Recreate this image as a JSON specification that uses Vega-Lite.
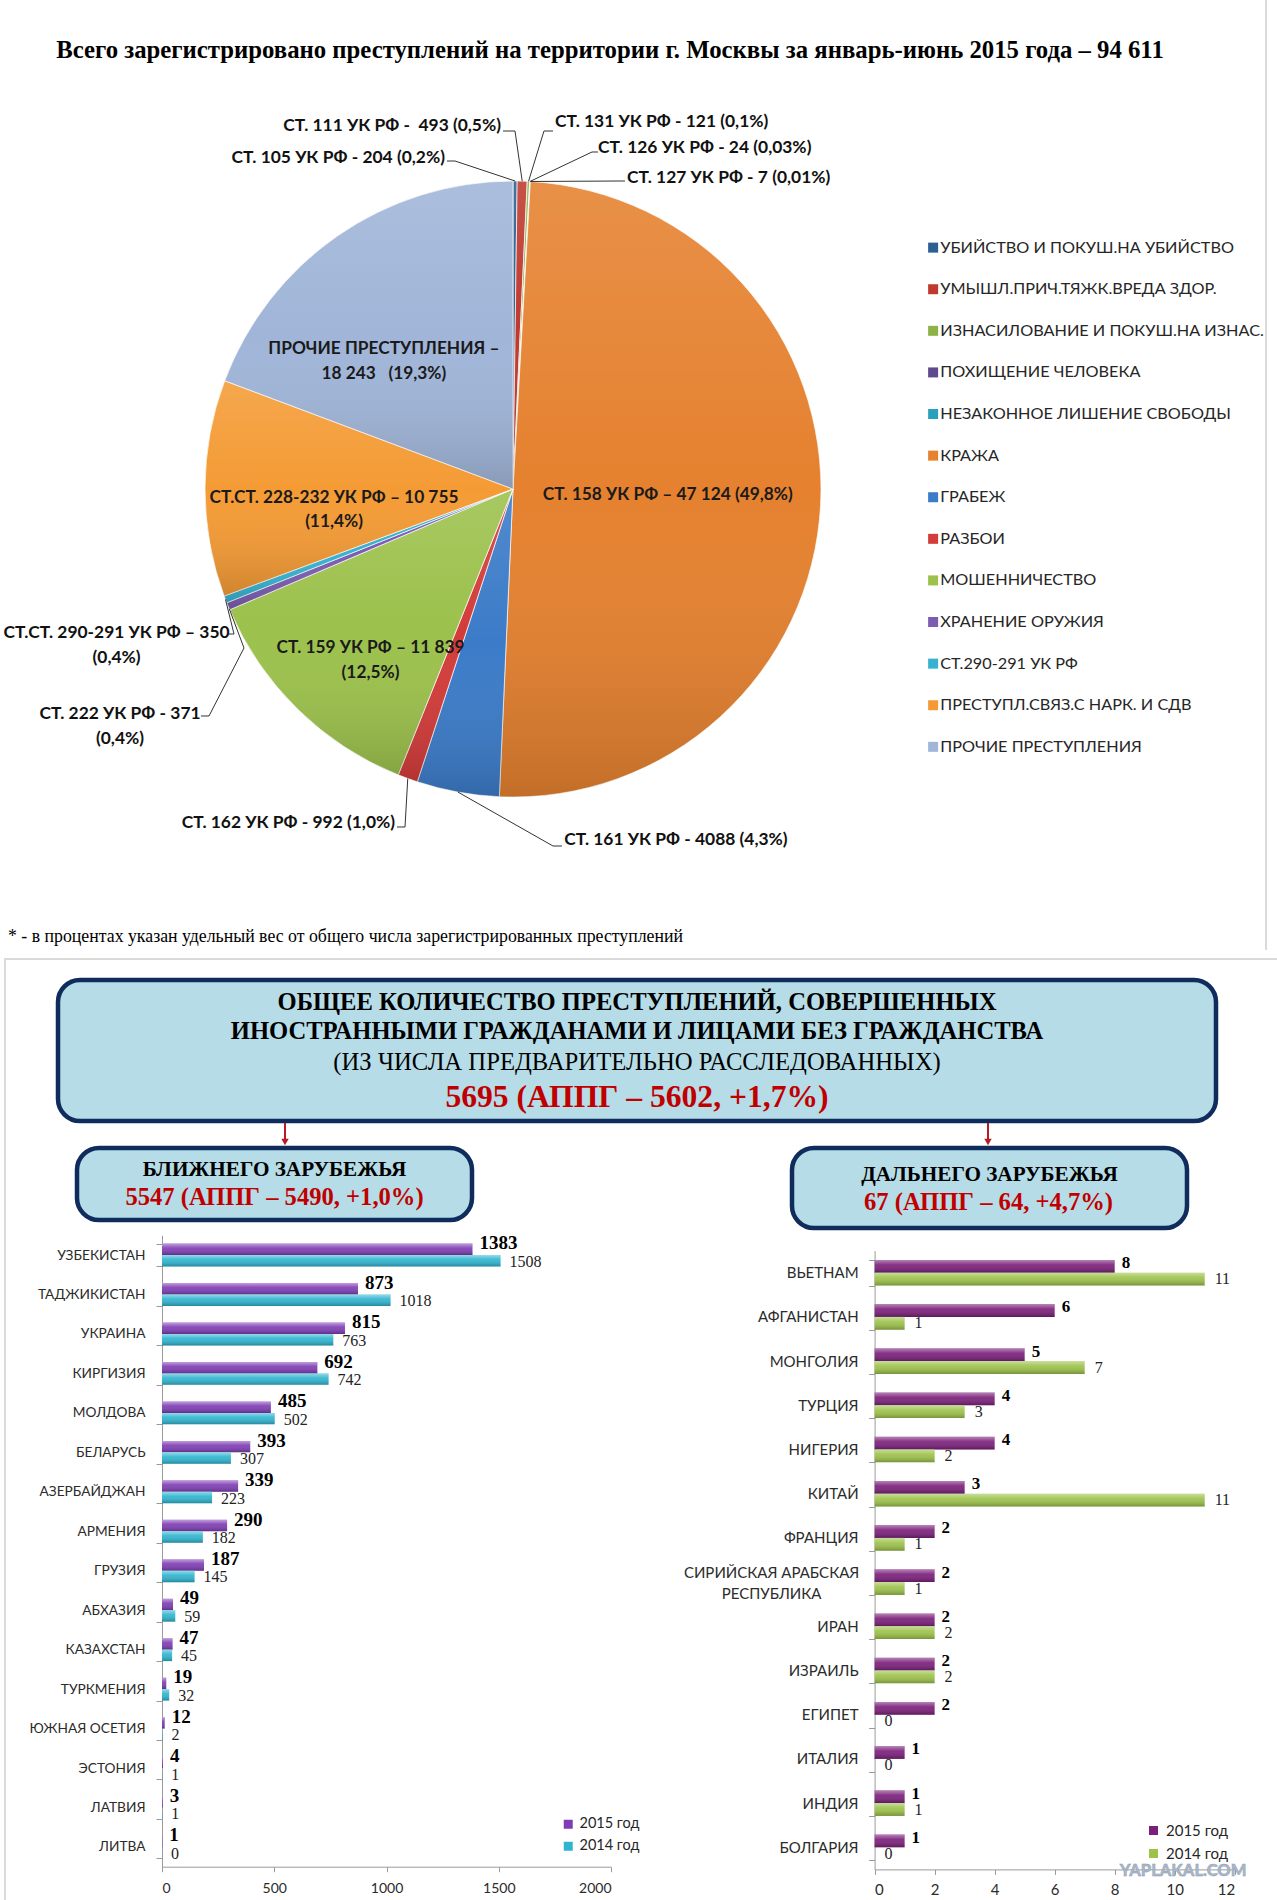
{
  "$schema": "https://vega.github.io/schema/vega-lite/v6.json",
  "width": 1277,
  "height": 1900,
  "padding": 0,
  "autosize": {"type": "none"},
  "background": "#ffffff",
  "config": {"view": {"stroke": null}, "text": {"font": "Lato"}},
  "datasets": {
    "crimes": [
      {"i": 1, "cat": "УБИЙСТВО И ПОКУШ.НА УБИЙСТВО", "n": 204, "label": ""},
      {"i": 2, "cat": "УМЫШЛ.ПРИЧ.ТЯЖК.ВРЕДА ЗДОР.", "n": 493, "label": ""},
      {"i": 3, "cat": "ИЗНАСИЛОВАНИЕ И ПОКУШ.НА ИЗНАС.", "n": 121, "label": ""},
      {"i": 4, "cat": "ПОХИЩЕНИЕ ЧЕЛОВЕКА", "n": 24, "label": ""},
      {"i": 5, "cat": "НЕЗАКОННОЕ ЛИШЕНИЕ СВОБОДЫ", "n": 7, "label": ""},
      {"i": 6, "cat": "КРАЖА", "n": 47124, "label": "СТ. 158 УК РФ – 47 124 (49,8%)"},
      {"i": 7, "cat": "ГРАБЕЖ", "n": 4088, "label": ""},
      {"i": 8, "cat": "РАЗБОИ", "n": 992, "label": ""},
      {"i": 9, "cat": "МОШЕННИЧЕСТВО", "n": 11839, "label": "СТ. 159 УК РФ – 11 839\n(12,5%)"},
      {"i": 10, "cat": "ХРАНЕНИЕ ОРУЖИЯ", "n": 371, "label": ""},
      {"i": 11, "cat": "СТ.290-291 УК РФ", "n": 350, "label": ""},
      {"i": 12, "cat": "ПРЕСТУПЛ.СВЯЗ.С НАРК. И СДВ", "n": 10755, "label": "СТ.СТ. 228-232 УК РФ – 10 755\n(11,4%)"},
      {"i": 13, "cat": "ПРОЧИЕ ПРЕСТУПЛЕНИЯ", "n": 18243, "label": "ПРОЧИЕ ПРЕСТУПЛЕНИЯ –\n18 243\u00a0\u00a0\u00a0(19,3%)"}
    ],
    "callouts": [
      {"id": "111", "t": "СТ. 111 УК РФ -\u00a0 493 (0,5%)", "side": "end", "x": -0.039, "y": 1.18},
      {"id": "105", "t": "СТ. 105 УК РФ - 204 (0,2%)", "side": "end", "x": -0.221, "y": 1.074},
      {"id": "162", "t": "СТ. 162 УК РФ - 992 (1,0%)", "side": "end", "x": -0.383, "y": -1.085},
      {"id": "131", "t": "СТ. 131 УК РФ - 121 (0,1%)", "side": "start", "x": 0.136, "y": 1.191},
      {"id": "126", "t": "СТ. 126 УК РФ - 24 (0,03%)", "side": "start", "x": 0.276, "y": 1.106},
      {"id": "127", "t": "СТ. 127 УК РФ - 7 (0,01%)", "side": "start", "x": 0.37, "y": 1.009},
      {"id": "161", "t": "СТ. 161 УК РФ - 4088 (4,3%)", "side": "start", "x": 0.166, "y": -1.141},
      {"id": "290", "t": "СТ.СТ. 290-291 УК РФ – 350\n(0,4%)", "side": "middle", "x": -1.287, "y": -0.469},
      {"id": "222", "t": "СТ. 222 УК РФ - 371\n(0,4%)", "side": "middle", "x": -1.276, "y": -0.731}
    ],
    "leaders": [
      {"id": "105", "k": 0, "x": -0.2143, "y": 1.0649}, {"id": "105", "k": 1, "x": -0.1883, "y": 1.0649}, {"id": "105", "k": 2, "x": 0.0068, "y": 1.0},
      {"id": "111", "k": 0, "x": -0.0325, "y": 1.1623}, {"id": "111", "k": 1, "x": 0.0065, "y": 1.1623}, {"id": "111", "k": 2, "x": 0.0299, "y": 0.9996},
      {"id": "131", "k": 0, "x": 0.1299, "y": 1.1623}, {"id": "131", "k": 1, "x": 0.1006, "y": 1.1623}, {"id": "131", "k": 2, "x": 0.0503, "y": 0.9987},
      {"id": "126", "k": 0, "x": 0.276, "y": 1.0942}, {"id": "126", "k": 1, "x": 0.2565, "y": 1.0942}, {"id": "126", "k": 2, "x": 0.0551, "y": 0.9985},
      {"id": "127", "k": 0, "x": 0.3636, "y": 1.0}, {"id": "127", "k": 1, "x": 0.3442, "y": 1.0}, {"id": "127", "k": 2, "x": 0.0561, "y": 0.9984},
      {"id": "162", "k": 0, "x": -0.3766, "y": -1.0974}, {"id": "162", "k": 1, "x": -0.3506, "y": -1.0974}, {"id": "162", "k": 2, "x": -0.3417, "y": -0.9398},
      {"id": "161", "k": 0, "x": 0.1591, "y": -1.1591}, {"id": "161", "k": 1, "x": 0.1299, "y": -1.1591}, {"id": "161", "k": 2, "x": -0.1792, "y": -0.9838},
      {"id": "222", "k": 0, "x": -1.013, "y": -0.737}, {"id": "222", "k": 1, "x": -0.987, "y": -0.737}, {"id": "222", "k": 2, "x": -0.8734, "y": -0.5162}, {"id": "222", "k": 3, "x": -0.9212, "y": -0.389},
      {"id": "290", "k": 0, "x": -0.9221, "y": -0.4708}, {"id": "290", "k": 1, "x": -0.9058, "y": -0.4708}, {"id": "290", "k": 2, "x": -0.9335, "y": -0.3585}
    ],
    "frames": [
      {"x": 1266, "x2": 1266, "y": 0, "y2": 950},
      {"x": 4, "x2": 1277, "y": 959, "y2": 959},
      {"x": 5, "x2": 5, "y": 959, "y2": 1900}
    ],
    "boxes": [
      {"box": "total", "x": 58, "x2": 1216, "y": 980, "y2": 1121},
      {"box": "near", "x": 77, "x2": 472, "y": 1148, "y2": 1220},
      {"box": "far", "x": 792, "x2": 1187, "y": 1148, "y2": 1228}
    ],
    "arrows": [
      {"x": 285, "y": 1123, "y2": 1140, "head": 1142},
      {"x": 988, "y": 1123, "y2": 1140, "head": 1142}
    ],
    "texts": [
      {"role": "title", "t": "Всего зарегистрировано преступлений на территории г. Москвы за январь-июнь 2015 года – 94 611", "x": 610, "y": 51},
      {"role": "footnote", "t": "* - в процентах указан удельный вес от общего числа зарегистрированных преступлений", "x": 8, "y": 937},
      {"role": "head", "t": "ОБЩЕЕ КОЛИЧЕСТВО ПРЕСТУПЛЕНИЙ, СОВЕРШЕННЫХ", "x": 637, "y": 1003},
      {"role": "head", "t": "ИНОСТРАННЫМИ ГРАЖДАНАМИ И ЛИЦАМИ БЕЗ ГРАЖДАНСТВА", "x": 637, "y": 1032},
      {"role": "note", "t": "(ИЗ ЧИСЛА ПРЕДВАРИТЕЛЬНО РАССЛЕДОВАННЫХ)", "x": 637, "y": 1063},
      {"role": "figure", "t": "5695 (АППГ – 5602, +1,7%)", "x": 637, "y": 1098},
      {"role": "subhead", "t": "БЛИЖНЕГО ЗАРУБЕЖЬЯ", "x": 274.5, "y": 1170},
      {"role": "subfigure", "t": "5547 (АППГ – 5490, +1,0%)", "x": 274.5, "y": 1198},
      {"role": "subhead", "t": "ДАЛЬНЕГО ЗАРУБЕЖЬЯ", "x": 989.5, "y": 1175},
      {"role": "subfigure", "t": "67 (АППГ – 64, +4,7%)", "x": 988.5, "y": 1203},
      {"role": "watermark", "t": "YAPLAKAL.COM", "x": 1183, "y": 1871}
    ],
    "near": [
      {"country": "УЗБЕКИСТАН", "year": "2015 год", "n": 1383}, {"country": "УЗБЕКИСТАН", "year": "2014 год", "n": 1508},
      {"country": "ТАДЖИКИСТАН", "year": "2015 год", "n": 873}, {"country": "ТАДЖИКИСТАН", "year": "2014 год", "n": 1018},
      {"country": "УКРАИНА", "year": "2015 год", "n": 815}, {"country": "УКРАИНА", "year": "2014 год", "n": 763},
      {"country": "КИРГИЗИЯ", "year": "2015 год", "n": 692}, {"country": "КИРГИЗИЯ", "year": "2014 год", "n": 742},
      {"country": "МОЛДОВА", "year": "2015 год", "n": 485}, {"country": "МОЛДОВА", "year": "2014 год", "n": 502},
      {"country": "БЕЛАРУСЬ", "year": "2015 год", "n": 393}, {"country": "БЕЛАРУСЬ", "year": "2014 год", "n": 307},
      {"country": "АЗЕРБАЙДЖАН", "year": "2015 год", "n": 339}, {"country": "АЗЕРБАЙДЖАН", "year": "2014 год", "n": 223},
      {"country": "АРМЕНИЯ", "year": "2015 год", "n": 290}, {"country": "АРМЕНИЯ", "year": "2014 год", "n": 182},
      {"country": "ГРУЗИЯ", "year": "2015 год", "n": 187}, {"country": "ГРУЗИЯ", "year": "2014 год", "n": 145},
      {"country": "АБХАЗИЯ", "year": "2015 год", "n": 49}, {"country": "АБХАЗИЯ", "year": "2014 год", "n": 59},
      {"country": "КАЗАХСТАН", "year": "2015 год", "n": 47}, {"country": "КАЗАХСТАН", "year": "2014 год", "n": 45},
      {"country": "ТУРКМЕНИЯ", "year": "2015 год", "n": 19}, {"country": "ТУРКМЕНИЯ", "year": "2014 год", "n": 32},
      {"country": "ЮЖНАЯ ОСЕТИЯ", "year": "2015 год", "n": 12}, {"country": "ЮЖНАЯ ОСЕТИЯ", "year": "2014 год", "n": 2},
      {"country": "ЭСТОНИЯ", "year": "2015 год", "n": 4}, {"country": "ЭСТОНИЯ", "year": "2014 год", "n": 1},
      {"country": "ЛАТВИЯ", "year": "2015 год", "n": 3}, {"country": "ЛАТВИЯ", "year": "2014 год", "n": 1},
      {"country": "ЛИТВА", "year": "2015 год", "n": 1}, {"country": "ЛИТВА", "year": "2014 год", "n": 0}
    ],
    "far": [
      {"country": "ВЬЕТНАМ", "year": "2015 год", "n": 8}, {"country": "ВЬЕТНАМ", "year": "2014 год", "n": 11},
      {"country": "АФГАНИСТАН", "year": "2015 год", "n": 6}, {"country": "АФГАНИСТАН", "year": "2014 год", "n": 1},
      {"country": "МОНГОЛИЯ", "year": "2015 год", "n": 5}, {"country": "МОНГОЛИЯ", "year": "2014 год", "n": 7},
      {"country": "ТУРЦИЯ", "year": "2015 год", "n": 4}, {"country": "ТУРЦИЯ", "year": "2014 год", "n": 3},
      {"country": "НИГЕРИЯ", "year": "2015 год", "n": 4}, {"country": "НИГЕРИЯ", "year": "2014 год", "n": 2},
      {"country": "КИТАЙ", "year": "2015 год", "n": 3}, {"country": "КИТАЙ", "year": "2014 год", "n": 11},
      {"country": "ФРАНЦИЯ", "year": "2015 год", "n": 2}, {"country": "ФРАНЦИЯ", "year": "2014 год", "n": 1},
      {"country": "СИРИЙСКАЯ АРАБСКАЯ РЕСПУБЛИКА", "year": "2015 год", "n": 2}, {"country": "СИРИЙСКАЯ АРАБСКАЯ РЕСПУБЛИКА", "year": "2014 год", "n": 1},
      {"country": "ИРАН", "year": "2015 год", "n": 2}, {"country": "ИРАН", "year": "2014 год", "n": 2},
      {"country": "ИЗРАИЛЬ", "year": "2015 год", "n": 2}, {"country": "ИЗРАИЛЬ", "year": "2014 год", "n": 2},
      {"country": "ЕГИПЕТ", "year": "2015 год", "n": 2}, {"country": "ЕГИПЕТ", "year": "2014 год", "n": 0},
      {"country": "ИТАЛИЯ", "year": "2015 год", "n": 1}, {"country": "ИТАЛИЯ", "year": "2014 год", "n": 0},
      {"country": "ИНДИЯ", "year": "2015 год", "n": 1}, {"country": "ИНДИЯ", "year": "2014 год", "n": 1},
      {"country": "БОЛГАРИЯ", "year": "2015 год", "n": 1}, {"country": "БОЛГАРИЯ", "year": "2014 год", "n": 0}
    ]
  },
  "resolve": {"scale": {"x": "independent", "y": "independent", "color": "independent", "yOffset": "independent"}},
  "layer": [
    {
      "layer": [
        {
          "data": {"name": "frames"},
          "mark": {"type": "rule", "color": "#dadada", "strokeWidth": 2},
          "encoding": {
            "x": {"field": "x", "type": "quantitative", "scale": {"domain": [0, 1277], "range": [0, 1277], "nice": false, "zero": false}, "axis": null},
            "x2": {"field": "x2"},
            "y": {"field": "y", "type": "quantitative", "scale": {"domain": [0, 1900], "range": [0, 1900], "nice": false, "zero": false}, "axis": null},
            "y2": {"field": "y2"}
          }
        },
        {
          "data": {"name": "boxes"},
          "mark": {"type": "rect", "fill": "#b6dce7", "stroke": "#0f2c5c", "strokeWidth": 4.5, "cornerRadius": 22},
          "encoding": {
            "x": {"field": "x", "type": "quantitative", "scale": {"domain": [0, 1277], "range": [0, 1277], "nice": false, "zero": false}, "axis": null},
            "x2": {"field": "x2"},
            "y": {"field": "y", "type": "quantitative", "scale": {"domain": [0, 1900], "range": [0, 1900], "nice": false, "zero": false}, "axis": null},
            "y2": {"field": "y2"}
          }
        },
        {
          "data": {"name": "arrows"},
          "mark": {"type": "rule", "color": "#b71c24", "strokeWidth": 2},
          "encoding": {
            "x": {"field": "x", "type": "quantitative", "scale": {"domain": [0, 1277], "range": [0, 1277], "nice": false, "zero": false}, "axis": null},
            "y": {"field": "y", "type": "quantitative", "scale": {"domain": [0, 1900], "range": [0, 1900], "nice": false, "zero": false}, "axis": null},
            "y2": {"field": "y2"}
          }
        },
        {
          "data": {"name": "arrows"},
          "mark": {"type": "point", "shape": "triangle-down", "filled": true, "color": "#b71c24", "size": 55, "opacity": 1},
          "encoding": {
            "x": {"field": "x", "type": "quantitative", "scale": {"domain": [0, 1277], "range": [0, 1277], "nice": false, "zero": false}, "axis": null},
            "y": {"field": "head", "type": "quantitative", "scale": {"domain": [0, 1900], "range": [0, 1900], "nice": false, "zero": false}, "axis": null}
          }
        },
        {
          "data": {"name": "texts"},
          "transform": [{"filter": "datum.role === 'title'"}],
          "mark": {"type": "text", "font": "Liberation Serif", "fontWeight": "bold", "fontSize": 24.75, "align": "center", "baseline": "middle", "color": "#000000"},
          "encoding": {
            "x": {"field": "x", "type": "quantitative", "scale": {"domain": [0, 1277], "range": [0, 1277], "nice": false, "zero": false}, "axis": null},
            "y": {"field": "y", "type": "quantitative", "scale": {"domain": [0, 1900], "range": [0, 1900], "nice": false, "zero": false}, "axis": null},
            "text": {"field": "t"}
          }
        },
        {
          "data": {"name": "texts"},
          "transform": [{"filter": "datum.role === 'footnote'"}],
          "mark": {"type": "text", "font": "Liberation Serif", "fontSize": 17.8, "align": "left", "baseline": "middle", "color": "#000000"},
          "encoding": {
            "x": {"field": "x", "type": "quantitative", "scale": {"domain": [0, 1277], "range": [0, 1277], "nice": false, "zero": false}, "axis": null},
            "y": {"field": "y", "type": "quantitative", "scale": {"domain": [0, 1900], "range": [0, 1900], "nice": false, "zero": false}, "axis": null},
            "text": {"field": "t"}
          }
        },
        {
          "data": {"name": "texts"},
          "transform": [{"filter": "datum.role === 'head'"}],
          "mark": {"type": "text", "font": "Liberation Serif", "fontWeight": "bold", "fontSize": 24.6, "align": "center", "baseline": "middle", "color": "#000000"},
          "encoding": {
            "x": {"field": "x", "type": "quantitative", "scale": {"domain": [0, 1277], "range": [0, 1277], "nice": false, "zero": false}, "axis": null},
            "y": {"field": "y", "type": "quantitative", "scale": {"domain": [0, 1900], "range": [0, 1900], "nice": false, "zero": false}, "axis": null},
            "text": {"field": "t"}
          }
        },
        {
          "data": {"name": "texts"},
          "transform": [{"filter": "datum.role === 'note'"}],
          "mark": {"type": "text", "font": "Liberation Serif", "fontSize": 24.7, "align": "center", "baseline": "middle", "color": "#000000"},
          "encoding": {
            "x": {"field": "x", "type": "quantitative", "scale": {"domain": [0, 1277], "range": [0, 1277], "nice": false, "zero": false}, "axis": null},
            "y": {"field": "y", "type": "quantitative", "scale": {"domain": [0, 1900], "range": [0, 1900], "nice": false, "zero": false}, "axis": null},
            "text": {"field": "t"}
          }
        },
        {
          "data": {"name": "texts"},
          "transform": [{"filter": "datum.role === 'figure'"}],
          "mark": {"type": "text", "font": "Liberation Serif", "fontWeight": "bold", "fontSize": 31.6, "align": "center", "baseline": "middle", "color": "#c00000"},
          "encoding": {
            "x": {"field": "x", "type": "quantitative", "scale": {"domain": [0, 1277], "range": [0, 1277], "nice": false, "zero": false}, "axis": null},
            "y": {"field": "y", "type": "quantitative", "scale": {"domain": [0, 1900], "range": [0, 1900], "nice": false, "zero": false}, "axis": null},
            "text": {"field": "t"}
          }
        },
        {
          "data": {"name": "texts"},
          "transform": [{"filter": "datum.role === 'subhead'"}],
          "mark": {"type": "text", "font": "Liberation Serif", "fontWeight": "bold", "fontSize": 21.2, "align": "center", "baseline": "middle", "color": "#000000"},
          "encoding": {
            "x": {"field": "x", "type": "quantitative", "scale": {"domain": [0, 1277], "range": [0, 1277], "nice": false, "zero": false}, "axis": null},
            "y": {"field": "y", "type": "quantitative", "scale": {"domain": [0, 1900], "range": [0, 1900], "nice": false, "zero": false}, "axis": null},
            "text": {"field": "t"}
          }
        },
        {
          "data": {"name": "texts"},
          "transform": [{"filter": "datum.role === 'subfigure'"}],
          "mark": {"type": "text", "font": "Liberation Serif", "fontWeight": "bold", "fontSize": 24.6, "align": "center", "baseline": "middle", "color": "#c00000"},
          "encoding": {
            "x": {"field": "x", "type": "quantitative", "scale": {"domain": [0, 1277], "range": [0, 1277], "nice": false, "zero": false}, "axis": null},
            "y": {"field": "y", "type": "quantitative", "scale": {"domain": [0, 1900], "range": [0, 1900], "nice": false, "zero": false}, "axis": null},
            "text": {"field": "t"}
          }
        },
        {
          "data": {"name": "texts"},
          "transform": [{"filter": "datum.role === 'watermark'"}],
          "mark": {"type": "text", "font": "Lato", "fontWeight": 900, "fontSize": 16.5, "align": "center", "baseline": "middle", "color": "#a9b8c8", "stroke": "#8a9bb0", "strokeWidth": 0.4},
          "encoding": {
            "x": {"field": "x", "type": "quantitative", "scale": {"domain": [0, 1277], "range": [0, 1277], "nice": false, "zero": false}, "axis": null},
            "y": {"field": "y", "type": "quantitative", "scale": {"domain": [0, 1900], "range": [0, 1900], "nice": false, "zero": false}, "axis": null},
            "text": {"field": "t"}
          }
        }
      ]
    },
    {
      "layer": [
        {
          "data": {"name": "crimes"},
          "mark": {"type": "arc", "radius": 308, "stroke": "#ffffff", "strokeWidth": 0.7},
          "encoding": {
            "x": {"datum": 0, "type": "quantitative", "scale": {"domain": [-1, 1], "range": [205, 821], "nice": false, "zero": false}, "axis": null},
            "y": {"datum": 0, "type": "quantitative", "scale": {"domain": [-1, 1], "range": [797, 181], "nice": false, "zero": false}, "axis": null},
            "theta": {"field": "n", "type": "quantitative", "stack": true},
            "order": {"field": "i", "type": "quantitative"},
            "color": {
              "field": "cat", "type": "nominal",
              "scale": {
                "domain": ["УБИЙСТВО И ПОКУШ.НА УБИЙСТВО", "УМЫШЛ.ПРИЧ.ТЯЖК.ВРЕДА ЗДОР.", "ИЗНАСИЛОВАНИЕ И ПОКУШ.НА ИЗНАС.", "ПОХИЩЕНИЕ ЧЕЛОВЕКА", "НЕЗАКОННОЕ ЛИШЕНИЕ СВОБОДЫ", "КРАЖА", "ГРАБЕЖ", "РАЗБОИ", "МОШЕННИЧЕСТВО", "ХРАНЕНИЕ ОРУЖИЯ", "СТ.290-291 УК РФ", "ПРЕСТУПЛ.СВЯЗ.С НАРК. И СДВ", "ПРОЧИЕ ПРЕСТУПЛЕНИЯ"],
                "range": ["#2c5f92", "#c0392f", "#8eb24a", "#5e4a8c", "#2aa0bc", "#e5812f", "#3b7bc8", "#d23c3a", "#9cc14c", "#7b5cb0", "#36b2d0", "#f49b35", "#a0b5d8"]
              },
              "legend": {"orient": "none", "legendX": 925, "legendY": 239.5, "title": null, "symbolType": "square", "symbolSize": 100, "symbolStrokeWidth": 0, "labelFont": "Lato", "labelFontSize": 16.25, "labelColor": "#262626", "labelLimit": 400, "rowPadding": 24.6, "labelOffset": -1, "padding": 0}
            }
          }
        },
        {
          "data": {"name": "crimes"},
          "mark": {"type": "arc", "radius": 308, "strokeWidth": 0, "fill": {"gradient": "linear", "x1": 0, "y1": 0, "x2": 0, "y2": 1, "stops": [{"offset": 0, "color": "rgba(255,255,255,0.12)"}, {"offset": 0.5, "color": "rgba(255,255,255,0)"}, {"offset": 1, "color": "rgba(0,0,0,0.15)"}]}},
          "encoding": {
            "x": {"datum": 0, "type": "quantitative", "scale": {"domain": [-1, 1], "range": [205, 821], "nice": false, "zero": false}, "axis": null},
            "y": {"datum": 0, "type": "quantitative", "scale": {"domain": [-1, 1], "range": [797, 181], "nice": false, "zero": false}, "axis": null},
            "theta": {"field": "n", "type": "quantitative", "stack": true},
            "order": {"field": "i", "type": "quantitative"}
          }
        },
        {
          "data": {"name": "crimes"},
          "mark": {"type": "text", "radius": 158, "dx": -3, "dy": -2, "font": "Lato", "fontWeight": "bold", "fontSize": 17.3, "color": "#1a1a1a", "align": "center", "baseline": "middle", "lineBreak": "\n", "lineHeight": 24.5},
          "encoding": {
            "x": {"datum": 0, "type": "quantitative", "scale": {"domain": [-1, 1], "range": [205, 821], "nice": false, "zero": false}, "axis": null},
            "y": {"datum": 0, "type": "quantitative", "scale": {"domain": [-1, 1], "range": [797, 181], "nice": false, "zero": false}, "axis": null},
            "theta": {"field": "n", "type": "quantitative", "stack": true},
            "order": {"field": "i", "type": "quantitative"},
            "text": {"field": "label", "type": "nominal", "condition": {"test": "datum.i !== 6", "value": ""}}
          }
        },
        {
          "data": {"name": "crimes"},
          "mark": {"type": "text", "radius": 182, "dx": -25.5, "dy": 10, "font": "Lato", "fontWeight": "bold", "fontSize": 17.3, "color": "#1a1a1a", "align": "center", "baseline": "middle", "lineBreak": "\n", "lineHeight": 24.5},
          "encoding": {
            "x": {"datum": 0, "type": "quantitative", "scale": {"domain": [-1, 1], "range": [205, 821], "nice": false, "zero": false}, "axis": null},
            "y": {"datum": 0, "type": "quantitative", "scale": {"domain": [-1, 1], "range": [797, 181], "nice": false, "zero": false}, "axis": null},
            "theta": {"field": "n", "type": "quantitative", "stack": true},
            "order": {"field": "i", "type": "quantitative"},
            "text": {"field": "label", "type": "nominal", "condition": {"test": "datum.i !== 13", "value": ""}}
          }
        },
        {
          "data": {"name": "crimes"},
          "mark": {"type": "text", "radius": 182, "dx": 3, "dy": 9, "font": "Lato", "fontWeight": "bold", "fontSize": 17.3, "color": "#1a1a1a", "align": "center", "baseline": "middle", "lineBreak": "\n", "lineHeight": 24.5},
          "encoding": {
            "x": {"datum": 0, "type": "quantitative", "scale": {"domain": [-1, 1], "range": [205, 821], "nice": false, "zero": false}, "axis": null},
            "y": {"datum": 0, "type": "quantitative", "scale": {"domain": [-1, 1], "range": [797, 181], "nice": false, "zero": false}, "axis": null},
            "theta": {"field": "n", "type": "quantitative", "stack": true},
            "order": {"field": "i", "type": "quantitative"},
            "text": {"field": "label", "type": "nominal", "condition": {"test": "datum.i !== 12", "value": ""}}
          }
        },
        {
          "data": {"name": "crimes"},
          "mark": {"type": "text", "radius": 218, "dx": 10, "dy": 3.5, "font": "Lato", "fontWeight": "bold", "fontSize": 17.3, "color": "#1a1a1a", "align": "center", "baseline": "middle", "lineBreak": "\n", "lineHeight": 24.5},
          "encoding": {
            "x": {"datum": 0, "type": "quantitative", "scale": {"domain": [-1, 1], "range": [205, 821], "nice": false, "zero": false}, "axis": null},
            "y": {"datum": 0, "type": "quantitative", "scale": {"domain": [-1, 1], "range": [797, 181], "nice": false, "zero": false}, "axis": null},
            "theta": {"field": "n", "type": "quantitative", "stack": true},
            "order": {"field": "i", "type": "quantitative"},
            "text": {"field": "label", "type": "nominal", "condition": {"test": "datum.i !== 9", "value": ""}}
          }
        },
        {
          "data": {"name": "leaders"},
          "mark": {"type": "line", "color": "#333333", "strokeWidth": 1},
          "encoding": {
            "x": {"field": "x", "type": "quantitative", "scale": {"domain": [-1, 1], "range": [205, 821], "nice": false, "zero": false}, "axis": null},
            "y": {"field": "y", "type": "quantitative", "scale": {"domain": [-1, 1], "range": [797, 181], "nice": false, "zero": false}, "axis": null},
            "detail": {"field": "id", "type": "nominal"},
            "order": {"field": "k", "type": "quantitative"}
          }
        },
        {
          "data": {"name": "callouts"},
          "transform": [{"filter": "datum.side === 'end'"}],
          "mark": {"type": "text", "font": "Lato", "fontWeight": "bold", "fontSize": 17.4, "color": "#111111", "align": "right", "baseline": "middle", "lineBreak": "\n", "lineHeight": 24.5},
          "encoding": {
            "x": {"field": "x", "type": "quantitative", "scale": {"domain": [-1, 1], "range": [205, 821], "nice": false, "zero": false}, "axis": null},
            "y": {"field": "y", "type": "quantitative", "scale": {"domain": [-1, 1], "range": [797, 181], "nice": false, "zero": false}, "axis": null},
            "text": {"field": "t"}
          }
        },
        {
          "data": {"name": "callouts"},
          "transform": [{"filter": "datum.side === 'start'"}],
          "mark": {"type": "text", "font": "Lato", "fontWeight": "bold", "fontSize": 17.4, "color": "#111111", "align": "left", "baseline": "middle", "lineBreak": "\n", "lineHeight": 24.5},
          "encoding": {
            "x": {"field": "x", "type": "quantitative", "scale": {"domain": [-1, 1], "range": [205, 821], "nice": false, "zero": false}, "axis": null},
            "y": {"field": "y", "type": "quantitative", "scale": {"domain": [-1, 1], "range": [797, 181], "nice": false, "zero": false}, "axis": null},
            "text": {"field": "t"}
          }
        },
        {
          "data": {"name": "callouts"},
          "transform": [{"filter": "datum.side === 'middle'"}],
          "mark": {"type": "text", "font": "Lato", "fontWeight": "bold", "fontSize": 17.4, "color": "#111111", "align": "center", "baseline": "middle", "lineBreak": "\n", "lineHeight": 24.5},
          "encoding": {
            "x": {"field": "x", "type": "quantitative", "scale": {"domain": [-1, 1], "range": [205, 821], "nice": false, "zero": false}, "axis": null},
            "y": {"field": "y", "type": "quantitative", "scale": {"domain": [-1, 1], "range": [797, 181], "nice": false, "zero": false}, "axis": null},
            "text": {"field": "t"}
          }
        }
      ]
    },
    {
      "data": {"name": "near"},
      "encoding": {
        "y": {
          "field": "country", "type": "nominal",
          "scale": {"domain": ["УЗБЕКИСТАН", "ТАДЖИКИСТАН", "УКРАИНА", "КИРГИЗИЯ", "МОЛДОВА", "БЕЛАРУСЬ", "АЗЕРБАЙДЖАН", "АРМЕНИЯ", "ГРУЗИЯ", "АБХАЗИЯ", "КАЗАХСТАН", "ТУРКМЕНИЯ", "ЮЖНАЯ ОСЕТИЯ", "ЭСТОНИЯ", "ЛАТВИЯ", "ЛИТВА"], "range": [1235.3, 1866.7], "paddingInner": 0.42, "paddingOuter": 0.21},
          "axis": {"orient": "left", "offset": -162, "title": null, "tickBand": "extent", "tickSize": 6, "tickColor": "#9a9a9a", "domainColor": "#9a9a9a", "labelFont": "Lato", "labelFontSize": 13.7, "labelColor": "#2b2b2b", "labelPadding": 11, "labelLimit": 300, "grid": false}
        },
        "yOffset": {"field": "year", "type": "nominal", "scale": {"domain": ["2015 год", "2014 год"], "paddingInner": 0, "paddingOuter": 0}},
        "x": {
          "field": "n", "type": "quantitative",
          "scale": {"domain": [0, 2000], "range": [162, 611], "nice": false, "zero": false},
          "axis": {"orient": "bottom", "offset": -33.3, "title": null, "values": [0, 500, 1000, 1500, 2000], "format": "d", "tickSize": 5, "tickColor": "#9a9a9a", "domainColor": "#9a9a9a", "labelFont": "Lato", "labelFontSize": 14, "labelColor": "#2b2b2b", "labelPadding": 10, "grid": false}
        }
      },
      "layer": [
        {
          "mark": {"type": "bar"},
          "encoding": {
            "color": {
              "field": "year", "type": "nominal",
              "scale": {"domain": ["2015 год", "2014 год"], "range": ["#7f3db5", "#2fb5d0"]},
              "legend": {"orient": "none", "legendX": 561, "legendY": 1817, "title": null, "symbolType": "square", "symbolSize": 81, "symbolStrokeWidth": 0, "labelFont": "Lato", "labelFontSize": 14.5, "labelColor": "#262626", "rowPadding": 7, "labelOffset": 4, "padding": 0}
            }
          }
        },
        {
          "mark": {"type": "bar", "fill": {"gradient": "linear", "x1": 0, "y1": 0, "x2": 0, "y2": 1, "stops": [{"offset": 0, "color": "rgba(255,255,255,0.5)"}, {"offset": 0.4, "color": "rgba(255,255,255,0.08)"}, {"offset": 1, "color": "rgba(0,0,0,0.25)"}]}}
        },
        {
          "transform": [{"filter": "datum.year === '2015 год'"}],
          "mark": {"type": "text", "align": "left", "baseline": "middle", "dx": 7, "dy": -6, "font": "Liberation Serif", "fontWeight": "bold", "fontSize": 19, "color": "#000000"},
          "encoding": {"text": {"field": "n", "type": "quantitative", "format": "d"}}
        },
        {
          "transform": [{"filter": "datum.year === '2014 год'"}],
          "mark": {"type": "text", "align": "left", "baseline": "middle", "dx": 9, "dy": 1, "font": "Liberation Serif", "fontSize": 16, "color": "#222222"},
          "encoding": {"text": {"field": "n", "type": "quantitative", "format": "d"}}
        }
      ]
    },
    {
      "data": {"name": "far"},
      "encoding": {
        "y": {
          "field": "country", "type": "nominal",
          "scale": {"domain": ["ВЬЕТНАМ", "АФГАНИСТАН", "МОНГОЛИЯ", "ТУРЦИЯ", "НИГЕРИЯ", "КИТАЙ", "ФРАНЦИЯ", "СИРИЙСКАЯ АРАБСКАЯ РЕСПУБЛИКА", "ИРАН", "ИЗРАИЛЬ", "ЕГИПЕТ", "ИТАЛИЯ", "ИНДИЯ", "БОЛГАРИЯ"], "range": [1250.6, 1869.4], "paddingInner": 0.42, "paddingOuter": 0.21},
          "axis": {
            "orient": "left", "offset": -874.6, "title": null, "tickBand": "extent", "tickSize": 6, "tickColor": "#9a9a9a", "domainColor": "#9a9a9a",
            "labelFont": "Lato", "labelFontSize": 15, "labelColor": "#2b2b2b", "labelLimit": 300, "labelLineHeight": 21, "grid": false,
            "labelPadding": {"condition": {"test": "datum.value === 'СИРИЙСКАЯ АРАБСКАЯ РЕСПУБЛИКА'", "value": 97.5}, "value": 10.5},
            "labelAlign": {"condition": {"test": "datum.value === 'СИРИЙСКАЯ АРАБСКАЯ РЕСПУБЛИКА'", "value": "center"}, "value": "right"},
            "labelOffset": {"condition": {"test": "datum.value === 'СИРИЙСКАЯ АРАБСКАЯ РЕСПУБЛИКА'", "value": -10}, "value": 0},
            "labelExpr": "datum.label === 'СИРИЙСКАЯ АРАБСКАЯ РЕСПУБЛИКА' ? ['СИРИЙСКАЯ АРАБСКАЯ', 'РЕСПУБЛИКА'] : datum.label"
          }
        },
        "yOffset": {"field": "year", "type": "nominal", "scale": {"domain": ["2015 год", "2014 год"], "paddingInner": 0, "paddingOuter": 0}},
        "x": {
          "field": "n", "type": "quantitative",
          "scale": {"domain": [0, 12], "range": [874.6, 1234.7], "nice": false, "zero": false},
          "axis": {"orient": "bottom", "offset": -30.6, "title": null, "values": [0, 2, 4, 6, 8, 10, 12], "format": "d", "tickSize": 5, "tickColor": "#9a9a9a", "domainColor": "#9a9a9a", "labelFont": "Lato", "labelFontSize": 15, "labelColor": "#2b2b2b", "labelPadding": 8, "grid": false}
        }
      },
      "layer": [
        {
          "mark": {"type": "bar"},
          "encoding": {
            "color": {
              "field": "year", "type": "nominal",
              "scale": {"domain": ["2015 год", "2014 год"], "range": ["#7b1f7a", "#9cc24a"]},
              "legend": {"orient": "none", "legendX": 1146, "legendY": 1823, "title": null, "symbolType": "square", "symbolSize": 81, "symbolStrokeWidth": 0, "labelFont": "Lato", "labelFontSize": 15, "labelColor": "#262626", "rowPadding": 7, "labelOffset": 5, "padding": 0}
            }
          }
        },
        {
          "mark": {"type": "bar", "fill": {"gradient": "linear", "x1": 0, "y1": 0, "x2": 0, "y2": 1, "stops": [{"offset": 0, "color": "rgba(255,255,255,0.45)"}, {"offset": 0.4, "color": "rgba(255,255,255,0.08)"}, {"offset": 1, "color": "rgba(0,0,0,0.25)"}]}}
        },
        {
          "transform": [{"filter": "datum.year === '2015 год'"}],
          "mark": {"type": "text", "align": "left", "baseline": "middle", "dx": 7, "dy": -3, "font": "Liberation Serif", "fontWeight": "bold", "fontSize": 17, "color": "#000000"},
          "encoding": {"text": {"field": "n", "type": "quantitative", "format": "d"}}
        },
        {
          "transform": [{"filter": "datum.year === '2014 год'"}],
          "mark": {"type": "text", "align": "left", "baseline": "middle", "dx": 10, "dy": 0, "font": "Liberation Serif", "fontSize": 16, "color": "#222222"},
          "encoding": {"text": {"field": "n", "type": "quantitative", "format": "d"}}
        }
      ]
    }
  ]
}
